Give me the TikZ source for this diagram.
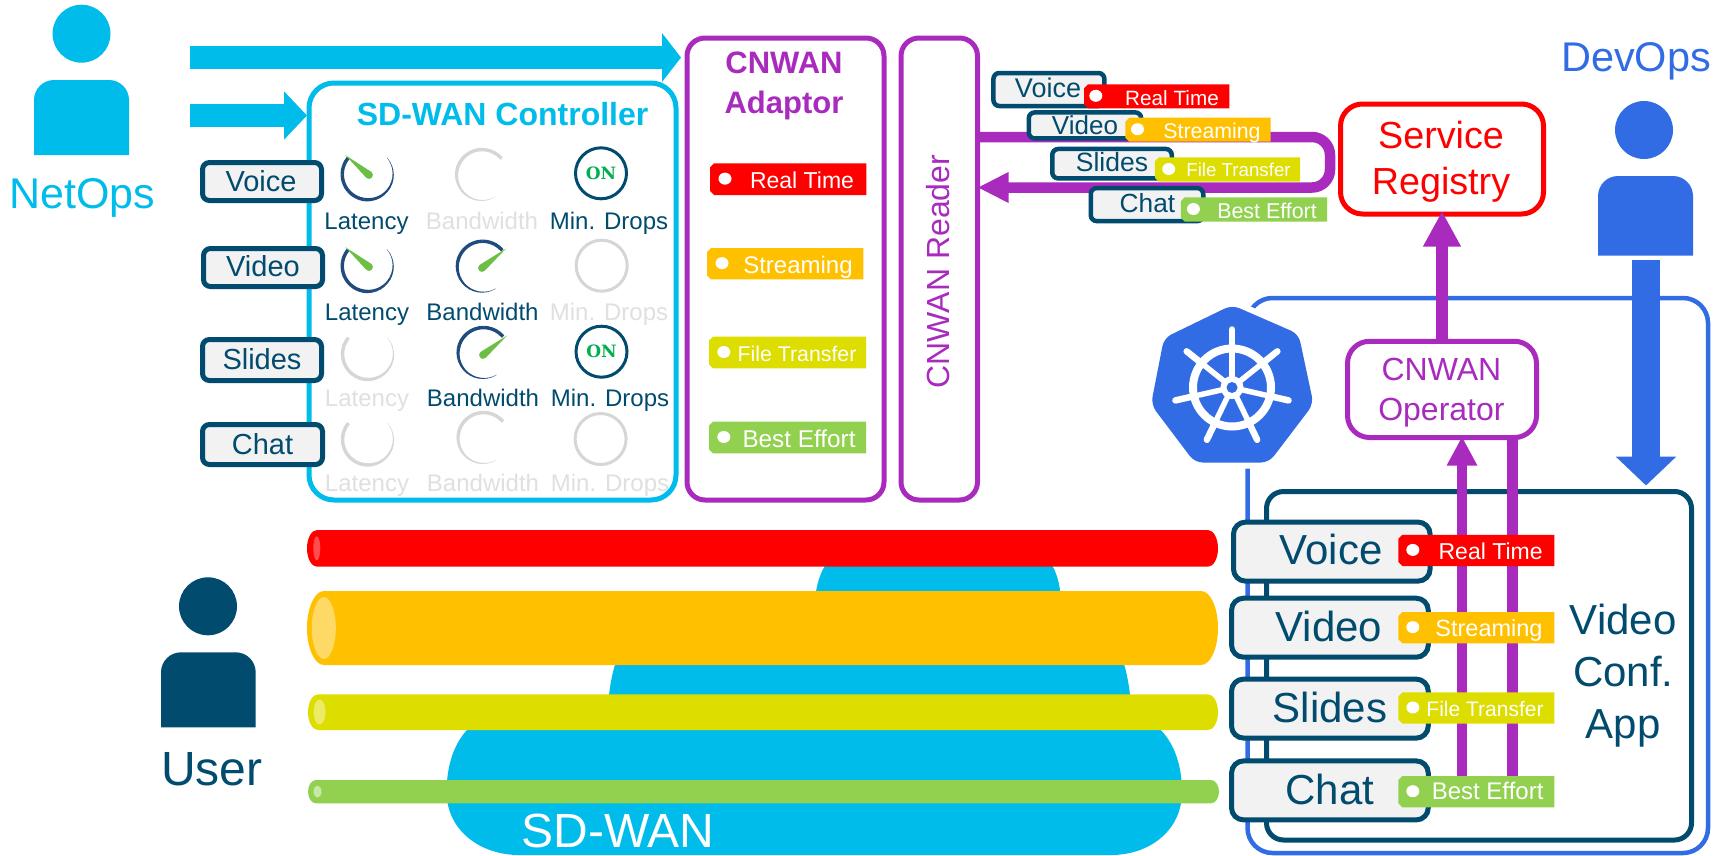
\documentclass[tikz,border=0pt]{standalone}
\usepackage{fontspec}
\setmainfont{Liberation Sans}
\newfontfamily\onfont{DejaVu Serif}
\usetikzlibrary{arrows.meta}
\definecolor{cy}{HTML}{00BCEB}
\definecolor{dk}{HTML}{004B6E}
\definecolor{nv}{HTML}{1E4A7D}
\definecolor{pu}{HTML}{A92BBD}
\definecolor{bl}{HTML}{326CE5}
\definecolor{rd}{HTML}{FF0000}
\definecolor{og}{HTML}{FFC000}
\definecolor{ye}{HTML}{DDDD00}
\definecolor{gr}{HTML}{92D050}
\definecolor{lg}{HTML}{D6D6D6}
\definecolor{lt}{HTML}{E0E0E0}
\definecolor{fl}{HTML}{F2F2F2}
\definecolor{nd}{HTML}{6DBE45}
\definecolor{onc}{HTML}{00B050}
\newcommand\fs[1]{\fontsize{#1}{#1}\selectfont}
\newcommand\fl[2]{\fontsize{#1}{#2}\selectfont}
\newcommand\CapT[1]{\raisebox{0pt}[.716em][0pt]{#1}}
\tikzset{
 box/.style={rectangle,inner sep=0,outer sep=0,line width=5},
 lab/.style={inner sep=0,outer sep=0},
 svc/.style={box,draw=dk,fill=fl,rounded corners=12},
 keyb/.style={box,draw=dk,fill=fl,rounded corners=7},
 tagt/.style={lab,text=white},
}
\newcommand\person[8]{% name cx hy x0 y0 x1 y1 col
 \node[circle,fill=#8,inner sep=0,minimum size=58] (#1) at (#2,#3) {};
 \fill[#8] (#4,#7) [rounded corners=20] -- (#4,#5) -- (#6,#5) [rounded corners=0] -- (#6,#7) -- cycle;
}
\newcommand\gaugearc[5]{% cx cy start span col
 \foreach \i in {0,...,25}{
  \pgfmathsetmacro\aa{#3+\i*#4/26}
  \pgfmathsetmacro\bb{\aa+#4/26+0.6}
  \pgfmathsetmacro\w{\i<12?3.4:3.4-(\i-12)*3.1/13}
  \draw[color=#5,line width=\w pt] (#1,#2) +(-\aa:25.5) arc[start angle=-\aa,end angle=-\bb,radius=25.5];
 }
}
\newcommand\needle[3]{% cx cy angle
 \fill[nd] (#1,#2) +(-#3:31) -- +(-#3-90:3.9) arc[start angle=-#3-90,end angle=-#3-270,radius=3.9] -- cycle;
}
\newcommand\tagbg[6]{% x0 y0 x1 y1 col dotx
 \fill[#5] (#1+4,#2) -- (#3,#2) -- (#3,#4) -- (#1+4,#4) -- (#1,#4-4) -- (#1,#2+4) -- cycle;
 \fill[white] (#6,{(#2+#4)/2-0.5}) ellipse[x radius=6.5,y radius=6];
}
\newcommand\pipe[6]{% x0 y0 x1 y1 rx col
 \fill[#6] (#1+#5,#2) -- (#3-#5,#2) arc[start angle=-90,end angle=90,x radius=#5,y radius={(#4-#2)/2}] -- (#1+#5,#4) arc[start angle=90,end angle=270,x radius=#5,y radius={(#4-#2)/2}] -- cycle;
}
\begin{document}
\begin{tikzpicture}[x=1pt,y=1pt,yscale=-1]
\useasboundingbox (0,0) rectangle (1727,855);
\fill[white] (0,0) rectangle (1727,855);

% cloud
\fill[cy] (446.6,792) .. controls (446.6,745) and (470,712) .. (510,712) -- (1115,712) .. controls (1158,712) and (1182,745) .. (1182,792) .. controls (1182,830) and (1150,855) .. (1111,855) -- (519,855) .. controls (480,855) and (446.6,830) .. (446.6,792) -- cycle;
\fill[cy] (608,715) .. controls (608,650) and (640,600) .. (680,600) -- (1060,600) .. controls (1100,600) and (1131,650) .. (1131,715) -- cycle;
\fill[cy] (815,605) .. controls (815,575) and (830,545) .. (860,545) -- (1015,545) .. controls (1050,545) and (1061,575) .. (1061,605) -- cycle;
\node[lab,text=white,font=\fs{48}] (sdwan) at (618,830) {\CapT{SD-WAN}};

% pipes
\pipe{307}{530}{1218}{566.7}{10}{rd}
\fill[rd!70!white] (316.8,548.3) ellipse[x radius=3.5,y radius=12];
\pipe{307}{591}{1218}{665}{17}{og}
\fill[og!60!white] (323.8,628) ellipse[x radius=12,y radius=31];
\pipe{308}{694.3}{1218}{730}{10}{ye}
\fill[ye!60!white] (319.6,712) ellipse[x radius=6,y radius=12.5];
\pipe{308}{780}{1219}{803.3}{8}{gr}
\fill[gr!50!white] (317.5,791.6) ellipse[x radius=4,y radius=6];

% persons
\person{netopsh}{81.5}{33.7}{34}{80}{129}{155}{cy}
\node[lab,text=cy,font=\fs{43}] (netops) at (82.5,193) {\CapT{NetOps}};
\person{devopsh}{1644}{130}{1598}{176}{1693}{255.5}{bl}
\node[lab,text=bl,font=\fs{41.5}] (devops) at (1636,57) {\CapT{DevOps}};
\person{userh}{208}{606.3}{161}{652.3}{255.7}{727.3}{dk}
\node[lab,text=dk,font=\fs{48}] (user) at (212,768) {\CapT{User}};

% controller
\node[box,draw=cy,rounded corners=25,minimum width=367,minimum height=417] (ctl) at (492.5,291.5) {};
\node[lab,text=cy,font=\bfseries\fs{32}] (ctlt) at (502.6,114) {\CapT{SD-WAN Controller}};
% adaptor and reader
\node[box,draw=pu,rounded corners=18,minimum width=197,minimum height=462] (adaptor) at (785.5,269) {};
\node[lab,text=pu,font=\bfseries\fl{31}{40},align=center] (adaptort) at (784,82.5) {\CapT{CNWAN}\\\CapT{Adaptor}};
\node[box,draw=pu,rounded corners=18,minimum width=76.5,minimum height=462] (reader) at (939.25,269) {};
\node[lab,text=pu,font=\fs{32},rotate=90] (readert) at (938,271.5) {\CapT{CNWAN Reader}};

% arrows NetOps
\coordinate (a1) at (190,57.5);
\coordinate (a2) at (190,115.5);
\draw[cy,line width=23,-{Triangle[length=19pt,width=48pt]},shorten >=6] (a1) -- (a1 -| adaptor.west);
\draw[cy,line width=23,-{Triangle[length=23pt,width=47pt]},shorten >=2] (a2) -- (a2 -| ctl.west);

% left key boxes
\node[keyb,minimum width=119,minimum height=38] (kv) at (262,181.5) {};
\node[lab,text=dk,font=\fs{29}] at (261,181) {\CapT{Voice}};
\node[keyb,minimum width=119,minimum height=38] (kw) at (263,267.5) {};
\node[lab,text=dk,font=\fs{29}] at (263,266) {\CapT{Video}};
\node[keyb,minimum width=119,minimum height=41] (ks) at (262,360) {};
\node[lab,text=dk,font=\fs{29}] at (262,359) {\CapT{Slides}};
\node[keyb,minimum width=120,minimum height=40] (kc) at (262.5,444.5) {};
\node[lab,text=dk,font=\fs{29}] at (262.5,444) {\CapT{Chat}};

% gauges row 1
\gaugearc{367.7}{174.3}{140}{260}{nv}\needle{369}{175}{140}
\gaugearc{482}{175}{40}{260}{lg}
\node[circle,draw=dk,line width=3,fill=white,minimum size=51,inner sep=0] (on1) at (601,173.3) {};
\node[lab,text=onc,font=\onfont\bfseries\fs{17}] at (on1) {\CapT{ON}};
\node[lab,text=dk,font=\fs{24}] at (366.5,220.7) {\CapT{Latency}};
\node[lab,text=lt,font=\fs{24}] at (482,220.7) {\CapT{Bandwidth}};
\node[lab,text=dk,font=\fs{24}] at (609,220.7) {\CapT{Min. Drops}};
% row 2
\gaugearc{367.7}{266}{140}{260}{nv}\needle{369}{267}{140}
\gaugearc{482.7}{266.7}{40}{260}{nv}\needle{482}{268}{39}
\node[circle,draw=lg,line width=3,minimum size=51,inner sep=0] (on2) at (601.7,265.7) {};
\node[lab,text=dk,font=\fs{24}] at (367,311.7) {\CapT{Latency}};
\node[lab,text=dk,font=\fs{24}] at (482.5,311.7) {\CapT{Bandwidth}};
\node[lab,text=lt,font=\fs{24}] at (609,311.7) {\CapT{Min. Drops}};
% row 3
\gaugearc{368}{354}{140}{260}{lg}
\gaugearc{483.5}{353}{40}{260}{nv}\needle{483}{355}{39}
\node[circle,draw=dk,line width=3,minimum size=51,inner sep=0] (on3) at (601.5,351.7) {};
\node[lab,text=onc,font=\onfont\bfseries\fs{17}] at (on3) {\CapT{ON}};
\node[lab,text=lt,font=\fs{24}] at (367,398) {\CapT{Latency}};
\node[lab,text=dk,font=\fs{24}] at (483,398) {\CapT{Bandwidth}};
\node[lab,text=dk,font=\fs{24}] at (610,398) {\CapT{Min. Drops}};
% row 4
\gaugearc{368}{439.5}{140}{260}{lg}
\gaugearc{483.5}{438}{40}{260}{lg}
\node[circle,draw=lg,line width=3,minimum size=51,inner sep=0] (on4) at (600.6,439) {};
\node[lab,text=lt,font=\fs{24}] at (367,483) {\CapT{Latency}};
\node[lab,text=lt,font=\fs{24}] at (483,483) {\CapT{Bandwidth}};
\node[lab,text=lt,font=\fs{24}] at (610,483) {\CapT{Min. Drops}};

% adaptor tags
\tagbg{710}{163.3}{866.4}{195}{rd}{725}
\node[tagt,font=\fs{23}] (t1) at (802,180) {\CapT{Real Time}};
\tagbg{707}{248}{863.4}{279.3}{og}{722}
\node[tagt,font=\fs{24}] (t2) at (798,265) {\CapT{Streaming}};
\tagbg{709}{336.7}{866}{368.3}{ye}{723.8}
\node[tagt,font=\fs{21.3}] (t3) at (797,354) {\CapT{File Transfer}};
\tagbg{709}{421.7}{866}{453.3}{gr}{723.8}
\node[tagt,font=\fs{24.3}] (t4) at (799,439) {\CapT{Best Effort}};

% reader loop
\coordinate (lpa) at (977.5,137);
\coordinate (lpb) at (1330,137);
\coordinate (lpc) at (1330,187.5);
\coordinate (lpd) at (977.5,187.5);
\draw[pu,line width=10.5,rounded corners=18,-{Triangle[length=31pt,width=28.5pt]},shorten >=0] (lpa) -- (lpb) -- (lpc) -- (lpd);

% top-right tags
\node[keyb,line width=4.5,rounded corners=6,minimum width=111,minimum height=33] (rv) at (1048.9,89.5) {};
\node[lab,text=dk,font=\fs{27}] at (1048,87.7) {\CapT{Voice}};
\tagbg{1084}{84.3}{1229.4}{108.3}{rd}{1095.8}
\node[tagt,font=\fs{20.7}] (r1) at (1172,98) {\CapT{Real Time}};
\node[keyb,line width=4.5,rounded corners=6,minimum width=112.5,minimum height=26] (rw) at (1085,125.4) {};
\node[lab,text=dk,font=\fs{26}] at (1085,125) {\CapT{Video}};
\tagbg{1125.3}{117.7}{1270.6}{141.7}{og}{1137.5}
\node[tagt,font=\fs{21.3}] (r2) at (1212,130.7) {\CapT{Streaming}};
\node[keyb,line width=4.5,rounded corners=6,minimum width=119.5,minimum height=29.5] (rs) at (1112,163.7) {};
\node[lab,text=dk,font=\fs{26.5}] at (1112,161.7) {\CapT{Slides}};
\tagbg{1154.8}{157.3}{1300}{181.7}{ye}{1168.7}
\node[tagt,font=\fs{18.7}] (r3) at (1238.5,170) {\CapT{File Transfer}};
\node[keyb,line width=4.5,rounded corners=6,minimum width=112.5,minimum height=33] (rc) at (1147,204.6) {};
\node[lab,text=dk,font=\fs{26.3}] at (1147.5,203) {\CapT{Chat}};
\tagbg{1180.8}{197.3}{1327}{221.7}{gr}{1193.4}
\node[tagt,font=\fs{21.4}] (r4) at (1267,210.7) {\CapT{Best Effort}};

% service registry
\node[box,draw=rd,rounded corners=22,minimum width=203,minimum height=110] (registry) at (1442,159) {};
\node[lab,text=rd,font=\fl{37.7}{45.5},align=center] (registryt) at (1441,158) {\CapT{Service}\\\CapT{Registry}};

% cluster
\node[box,line width=4.5,draw=bl,rounded corners=25,minimum width=460.5,minimum height=555] (cluster) at (1477.75,575.5) {};
\draw[white,fill=white,line width=12,line join=round] (1232,305) -- (1298.6,334) -- (1313.5,404) -- (1269,462.5) -- (1194.7,462.5) -- (1151,404.6) -- (1164,338) -- cycle;
\fill[bl,rounded corners=8] (1232,305) -- (1298.6,334) -- (1313.5,404) -- (1269,462.5) -- (1194.7,462.5) -- (1151,404.6) -- (1164,338) -- cycle;
\draw[white,line width=8] (1232,387.5) circle[radius=39];
\foreach \k in {0,...,6}{
 \pgfmathsetmacro\ang{-90-\k*360/7}
 \draw[white,line width=6.5,line cap=round] (1232,387.5) +(\ang:39) -- +(\ang:58);
 \draw[white,line width=5.5] (1232,387.5) +(\ang:8) -- +(\ang:39);
}
\fill[white] (1232,387.5) circle[radius=11.5];
\fill[bl] (1232,387.5) circle[radius=5.5];

% app
\node[box,draw=dk,rounded corners=17,minimum width=425,minimum height=348.5] (app) at (1479,665.75) {};
\node[lab,text=dk,font=\fl{42}{52},align=center] (appt) at (1623.3,671.5) {\CapT{Video}\\\CapT{Conf.}\\\CapT{App}};

% operator
\node[box,draw=pu,rounded corners=22,minimum width=189,minimum height=96.2] (operator) at (1442,389.4) {};
\node[lab,text=pu,font=\fl{32}{40.5},align=center] (operatort) at (1441.4,389) {\CapT{CNWAN}\\\CapT{Operator}};
\draw[pu,line width=12,-{Triangle[length=35.5pt,width=35.3pt]},shorten >=-3] (operator.north) -- (operator.north |- registry.south);
\coordinate (up1) at (1462,776);
\coordinate (up2) at (1512.2,776);
\draw[pu,line width=10.7,-{Triangle[length=29pt,width=28.5pt]},shorten >=-1] (up1) -- (up1 |- operator.south);
\draw[pu,line width=10.7] (up2) -- (up2 |- operator.south);

% devops arrow
\coordinate (d1) at (1646,260);
\draw[bl,line width=28.6,-{Triangle[length=29pt,width=59pt]},shorten >=6] (d1) -- (d1 |- app.north);

% services
\node[svc,minimum width=196.6,minimum height=59] (sv) at (1331.8,551.6) {};
\node[lab,text=dk,font=\fs{42}] at (1331,549) {\CapT{Voice}};
\node[svc,minimum width=196.7,minimum height=59] (sw) at (1329.9,627.7) {};
\node[lab,text=dk,font=\fs{42}] at (1329,626) {\CapT{Video}};
\node[svc,minimum width=196.7,minimum height=59] (ss) at (1329.9,708.6) {};
\node[lab,text=dk,font=\fs{42}] at (1330,707) {\CapT{Slides}};
\node[svc,minimum width=196.7,minimum height=59] (sc) at (1329.9,790.4) {};
\node[lab,text=dk,font=\fs{42}] at (1330,789) {\CapT{Chat}};

\tagbg{1398.4}{534.8}{1554.4}{566}{rd}{1412.8}
\node[tagt,font=\fs{23}] (b1) at (1490.6,551) {\CapT{Real Time}};
\tagbg{1398.4}{612}{1554.4}{643.3}{og}{1412.8}
\node[tagt,font=\fs{23.5}] (b2) at (1489,628) {\CapT{Streaming}};
\tagbg{1398.4}{692.4}{1554.4}{723.6}{ye}{1412.8}
\node[tagt,font=\fs{21}] (b3) at (1485,708.5) {\CapT{File Transfer}};
\tagbg{1398.4}{776}{1554.4}{807.4}{gr}{1412.8}
\node[tagt,font=\fs{24}] (b4) at (1487.6,791) {\CapT{Best Effort}};
\end{tikzpicture}
\end{document}
